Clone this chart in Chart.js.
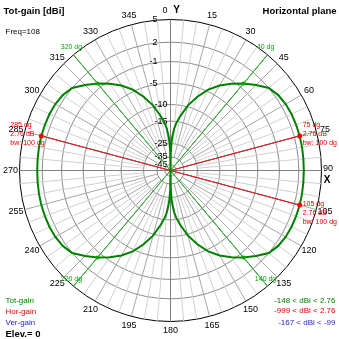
<!DOCTYPE html>
<html>
<head>
<meta charset="utf-8">
<script src="https://cdn.jsdelivr.net/npm/chart.js@4.4.1/dist/chart.umd.min.js"></script>
<style>
  html, body { margin: 0; padding: 0; background: #fff; }
  #wrap { width: 339px; height: 339px; }
</style>
</head>
<body>
<div id="wrap"><canvas id="c" width="339" height="339"></canvas></div>
<script>
// Azimuth pattern: total gain (dBi) at these azimuths (deg, clockwise from +Y)
const angles = [0, 1, 2, 3, 5, 7, 10, 15, 20, 25, 30, 35, 40, 45, 50, 55, 60, 65, 70, 75, 80, 85, 90,
  95, 100, 105, 110, 115, 120, 125, 130, 135, 140, 145, 150, 155, 160, 165, 170, 173, 175, 177, 178, 179,
  180, 181, 182, 183, 185, 187, 190, 195, 200, 205, 210, 215, 220, 225, 230, 235, 240, 245, 250, 255, 260, 265, 270,
  275, 280, 285, 290, 295, 300, 305, 310, 315, 320, 325, 330, 335, 340, 345, 350, 353, 355, 357, 358, 359];
const totGain = [-148, -30, -24.5, -21.5, -17.8, -15.6, -13.2, -9.6, -6.9, -4.6, -2.9, -1.5, -0.24, 0.9, 2.0, 2.45, 2.65, 2.73, 2.75, 2.76, 2.74, 2.71, 2.7,
  2.71, 2.74, 2.76, 2.75, 2.73, 2.65, 2.45, 2.0, 0.9, -0.24, -1.5, -2.9, -4.6, -6.9, -9.6, -13.2, -15.6, -17.8, -21.5, -24.5, -30,
  -148, -30, -24.5, -21.5, -17.8, -15.6, -13.2, -9.6, -6.9, -4.6, -2.9, -1.5, -0.24, 0.9, 2.0, 2.45, 2.65, 2.73, 2.75, 2.76, 2.74, 2.71, 2.7,
  2.71, 2.74, 2.76, 2.75, 2.73, 2.65, 2.45, 2.0, 0.9, -0.24, -1.5, -2.9, -4.6, -6.9, -9.6, -13.2, -15.6, -17.8, -21.5, -24.5, -30];

// Gain rings (dBi) of the log-style radial axis
const ringDb = [5, 2, -1, -5, -10, -15, -25, -35, -45];
// Azimuth tick step for the labelled spokes
const azimuthStep = 15;
// Maximum-gain directions and -3 dB directions
const peakAngles = [75, 105, 285];
const halfPowerAngles = [40, 140, 220, 320];
const beamWidth = 100;
const freq = 108;
const elevation = 0;
const rangeTot = [-148, 2.76];
const rangeHor = [-999, 2.76];
const rangeVer = [-167, -99];

// One category per degree of azimuth
const degLabels = Array.from({ length: 360 }, (_, i) => String(i));

// Compressed (log-like) mapping of dBi onto the radius, 5 dBi = outer ring
function radial(db) {
  const f = d => 0.802 * Math.exp(0.052 * d) - 0.04;
  return Math.max(0, f(db) / f(5));
}
function gainAt(a) { return totGain[angles.indexOf(a)]; }
function sparse(pairs) {
  const d = new Array(360).fill(null);
  pairs.forEach(([a, v]) => { d[((a % 360) + 360) % 360] = v; });
  return d;
}

const FONT = '"Liberation Sans", Arial, sans-serif';
const GREEN = '#008000', RED = '#e60000', BLUE = '#1f1fb4';

const patternData = sparse(angles.map((a, i) => [a, radial(totGain[i])]));

const datasets = [
  { data: sparse(peakAngles.map(a => [a, radial(gainAt(a))])), showLine: false,
    pointRadius: 2.5, pointBackgroundColor: '#ff0000', pointBorderWidth: 0 },
  { data: sparse(halfPowerAngles.map(a => [a, radial(gainAt(a))])), showLine: false,
    pointRadius: 2, pointBackgroundColor: '#00a000', pointBorderWidth: 0 },
  { data: patternData, borderColor: GREEN, borderWidth: 2, pointRadius: 0, spanGaps: true, fill: false, tension: 0 }
];
peakAngles.forEach(a => datasets.push({
  data: sparse([[a, radial(gainAt(a))], [a + 180, 0]]),
  borderColor: '#cc2b2b', borderWidth: 1, pointRadius: 0, spanGaps: true, fill: false
}));
halfPowerAngles.forEach(a => datasets.push({
  data: sparse([[a, 1], [a + 180, 0]]),
  borderColor: '#3aa83a', borderWidth: 1, pointRadius: 0, spanGaps: true, fill: false
}));

const annot = {
  id: 'annot',
  beforeDraw(chart) { chart.ctx.save(); chart.ctx.translate(0.5, 0.5); },
  beforeDatasetsDraw(chart) {
    const s = chart.scales.r, ctx = chart.ctx;
    ctx.save();
    ctx.fillStyle = '#000';
    ctx.textBaseline = 'middle';
    // gain ring labels along the upper vertical axis
    ctx.font = `9px ${FONT}`;
    ctx.textAlign = 'right';
    ringDb.forEach(db => {
      const r = s.getDistanceFromCenterForValue(radial(db));
      ctx.fillText(String(db), s.xCenter - (db >= -5 ? 13 : 3), s.yCenter - r);
    });
    // azimuth labels just outside the outer ring
    ctx.textAlign = 'center';
    for (let a = 0; a < 360; a += azimuthStep) {
      const p = s.getPointPosition(a, s.drawingArea + 9);
      ctx.font = `9px ${FONT}`;
      if (a === 0) {
        ctx.fillText(degLabels[a], p.x - 5.5, p.y);
        ctx.font = `bold 10px ${FONT}`;
        ctx.fillText('Y', p.x + 6, p.y);
      } else if (a === 90) {
        ctx.fillText(degLabels[a], p.x - 2.5, p.y - 1.5);
        ctx.font = `bold 10px ${FONT}`;
        ctx.fillText('X', p.x - 3.5, p.y + 9.5);
      } else {
        ctx.fillText(degLabels[a], p.x, p.y);
      }
    }
    ctx.restore();
  },
  afterDatasetsDraw(chart) {
    const s = chart.scales.r, ctx = chart.ctx;
    ctx.save();
    ctx.font = `7px ${FONT}`;
    ctx.textBaseline = 'middle';
    ctx.textAlign = 'left';
    ctx.fillStyle = RED;
    peakAngles.forEach(a => {
      const g = gainAt(a);
      const p = s.getPointPositionForValue(a, radial(g));
      const lines = [`${a} dg`, `${g.toFixed(2)} dB`, `bw: ${beamWidth} dg`];
      const x0 = p.x > s.xCenter ? p.x + 3 : p.x - 31;
      const y0 = p.y < s.yCenter ? p.y - 11 : p.y - 1;
      lines.forEach((l, i) => ctx.fillText(l, x0, y0 + i * 9));
    });
    ctx.fillStyle = '#10a010';
    ctx.textAlign = 'center';
    halfPowerAngles.forEach(a => {
      const p = s.getPointPositionForValue(a, 1);
      ctx.fillText(`${a} dg`, p.x - 2, p.y - 7.5);
    });
    ctx.restore();
  },
  afterDraw(chart) {
    const ctx = chart.ctx;
    ctx.save();
    ctx.fillStyle = '#000';
    ctx.textBaseline = 'alphabetic';
    ctx.font = `bold 9.5px ${FONT}`;
    ctx.textAlign = 'left';
    ctx.fillText('Tot-gain [dBi]', 3, 13);
    ctx.textAlign = 'right';
    ctx.fillText('Horizontal plane', 336, 13);
    ctx.font = `8px ${FONT}`;
    ctx.textAlign = 'left';
    ctx.fillText(`Freq=${freq}`, 5, 33);

    ctx.textBaseline = 'middle';
    ctx.fillStyle = GREEN; ctx.fillText('Tot-gain', 5, 300);
    ctx.fillStyle = RED;   ctx.fillText('Hor-gain', 5, 311);
    ctx.fillStyle = BLUE;  ctx.fillText('Ver-gain', 5, 322.5);
    ctx.fillStyle = '#000';
    ctx.font = `bold 9.5px ${FONT}`;
    ctx.fillText(`Elev.= ${elevation}`, 5, 333.5);

    ctx.font = `8px ${FONT}`;
    ctx.textAlign = 'right';
    ctx.fillStyle = GREEN; ctx.fillText(`${rangeTot[0]} < dBi < ${rangeTot[1]}`, 335, 300);
    ctx.fillStyle = RED;   ctx.fillText(`${rangeHor[0]} < dBi < ${rangeHor[1]}`, 335, 310.5);
    ctx.fillStyle = BLUE;  ctx.fillText(`${rangeVer[0]} < dBi < ${rangeVer[1]}`, 335, 322);
    ctx.restore();
    ctx.restore();
  }
};

new Chart(document.getElementById('c'), {
  type: 'radar',
  data: { labels: degLabels, datasets },
  options: {
    responsive: false,
    animation: false,
    events: [],
    layout: { padding: { left: 19, top: 19, right: 17, bottom: 17 } },
    plugins: { legend: { display: false }, tooltip: { enabled: false } },
    elements: { line: { tension: 0 } },
    scales: {
      r: {
        min: 0,
        max: 1,
        startAngle: 0,
        afterBuildTicks: s => {
          s.ticks = [0, ...ringDb.map(radial).sort((a, b) => a - b)].map(v => ({ value: v }));
        },
        ticks: { display: false },
        pointLabels: { display: false },
        grid: {
          circular: true,
          lineWidth: 1,
          color: c => (c.tick && c.tick.value > 0.999 ? '#000' : '#8c8c8c')
        },
        angleLines: {
          color: c => (c.index % 90 === 0 ? '#808080' : c.index % azimuthStep === 0 ? '#a6a6a6' : '#d0d0d0'),
          lineWidth: c => (c.index % 5 === 0 ? 1 : 0),
          borderDash: c => {
            if (c.index % 90 === 0) return [];
            const s = c.chart.scales.r;
            const start = s.getDistanceFromCenterForValue(radial(c.index % azimuthStep === 0 ? -35 : -25));
            return [0, start, 400, 0];
          }
        }
      }
    }
  },
  plugins: [annot]
});
</script>
</body>
</html>
